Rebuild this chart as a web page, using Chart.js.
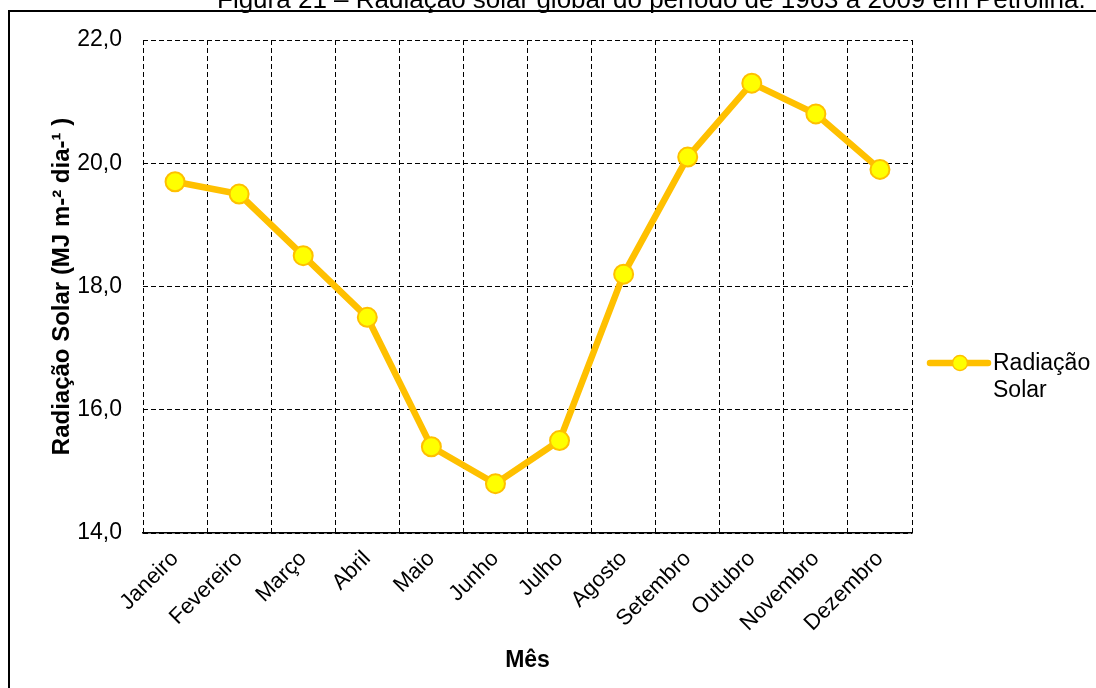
<!DOCTYPE html>
<html>
<head>
<meta charset="utf-8">
<script src="https://cdn.jsdelivr.net/npm/chart.js@4/dist/chart.umd.min.js"></script>
<style>
  html, body { margin: 0; padding: 0; background: #fff; }
  #wrap { width: 1096px; height: 688px; position: relative; }
</style>
</head>
<body>
<div id="wrap"><canvas id="radChart" width="1096" height="688"></canvas></div>
<script>
// Dados: radiação solar global média mensal (1963 a 2009), Petrolina
const months = ['Janeiro', 'Fevereiro', 'Março', 'Abril', 'Maio', 'Junho',
  'Julho', 'Agosto', 'Setembro', 'Outubro', 'Novembro', 'Dezembro'];
const radiation = [19.7, 19.5, 18.5, 17.5, 15.4, 14.8, 15.5, 18.2, 20.1, 21.3, 20.8, 19.9];
const yTicks = [14, 16, 18, 20, 22];

const seriesName = ['Radiação', 'Solar'];
const figureTitle = 'Figura 21 – Radiação solar global do período de 1963 a 2009 em Petrolina.';

const lineColor = '#FFC000';
const pointFill = '#FFFF00';
const font = 'Liberation Sans, Arial, sans-serif';

// Moldura externa e título da figura (cortado no topo)
const framePlugin = {
  id: 'frame',
  beforeDraw(chart) {
    const ctx = chart.ctx;
    ctx.save();
    ctx.fillStyle = '#fff';
    ctx.fillRect(0, 0, chart.width, chart.height);
    ctx.strokeStyle = '#000';
    ctx.lineWidth = 2;
    ctx.strokeRect(9, 11, chart.width + 20, chart.height + 20);
    ctx.fillStyle = '#000';
    ctx.font = '26px ' + font;
    ctx.textAlign = 'left';
    ctx.textBaseline = 'alphabetic';
    ctx.fillText(figureTitle, 217, 8);
    ctx.restore();
  }
};

// Legenda à direita, com o texto em duas linhas
const sideLegend = {
  id: 'sideLegend',
  afterDraw(chart) {
    const ctx = chart.ctx;
    const ds = chart.data.datasets[0];
    const x0 = 930, x1 = 988, y = 363;
    ctx.save();
    ctx.strokeStyle = ds.borderColor;
    ctx.lineWidth = ds.borderWidth;
    ctx.lineCap = 'round';
    ctx.beginPath();
    ctx.moveTo(x0, y);
    ctx.lineTo(x1, y);
    ctx.stroke();
    ctx.beginPath();
    ctx.arc((x0 + x1) / 2 + 1, y, 7.5, 0, Math.PI * 2);
    ctx.fillStyle = ds.pointBackgroundColor;
    ctx.fill();
    ctx.lineWidth = 1.5;
    ctx.strokeStyle = ds.pointBorderColor;
    ctx.stroke();
    ctx.fillStyle = '#000';
    ctx.font = '23px ' + font;
    ctx.textAlign = 'left';
    ctx.textBaseline = 'alphabetic';
    seriesName.forEach((t, i) => ctx.fillText(t, 993, 370 + i * 27));
    ctx.restore();
  }
};

const renderChart = () => {
  const ctx = document.getElementById('radChart').getContext('2d');

  new Chart(ctx, {
    type: 'line',
    data: {
      labels: months,
      datasets: [{
        label: seriesName.join(' '),
        data: radiation,
        borderColor: lineColor,
        borderWidth: 6.5,
        tension: 0,
        pointRadius: 9.5,
        pointHoverRadius: 9.5,
        pointBackgroundColor: pointFill,
        pointBorderColor: lineColor,
        pointBorderWidth: 2,
        clip: false,
      }],
    },
    options: {
      responsive: false,
      animation: false,
      events: [],
      layout: {
        padding: { top: 40, right: 184, left: 0, bottom: 0 },
      },
      plugins: {
        legend: { display: false },
        tooltip: { enabled: false },
      },
      scales: {
        x: {
          type: 'category',
          offset: true,
          afterFit: (scale) => { scale.height = 155; },
          grid: {
            offset: true,
            color: '#000',
            lineWidth: 1,
            drawTicks: false,
          },
          border: { display: true, color: '#000', width: 1.5, dash: [5, 3] },
          ticks: {
            color: '#000',
            font: { family: font, size: 22 },
            minRotation: 45,
            maxRotation: 45,
            autoSkip: false,
            padding: 13,
          },
          title: {
            display: true,
            text: 'Mês',
            color: '#000',
            font: { family: font, size: 23, weight: 'bold' },
            padding: { top: 0, bottom: 14 },
          },
        },
        y: {
          min: 14,
          max: 22,
          afterFit: (scale) => { scale.width = 143; },
          afterBuildTicks: (scale) => { scale.ticks = yTicks.map(v => ({ value: v })); },
          grid: {
            color: '#000',
            lineWidth: 1,
            drawTicks: false,
          },
          border: { display: false, dash: [5, 3] },
          ticks: {
            color: '#000',
            font: { family: font, size: 23 },
            padding: 21,
            callback: (v) => v.toFixed(1).replace('.', ','),
          },
          title: {
            display: true,
            text: 'Radiação Solar (MJ m-² dia-¹ )',
            color: '#000',
            font: { family: font, size: 24, weight: 'bold' },
            padding: { top: 48, bottom: 0 },
          },
        },
      },
    },
    plugins: [framePlugin, sideLegend],
  });
};

document.addEventListener('DOMContentLoaded', renderChart);
</script>
</body>
</html>
